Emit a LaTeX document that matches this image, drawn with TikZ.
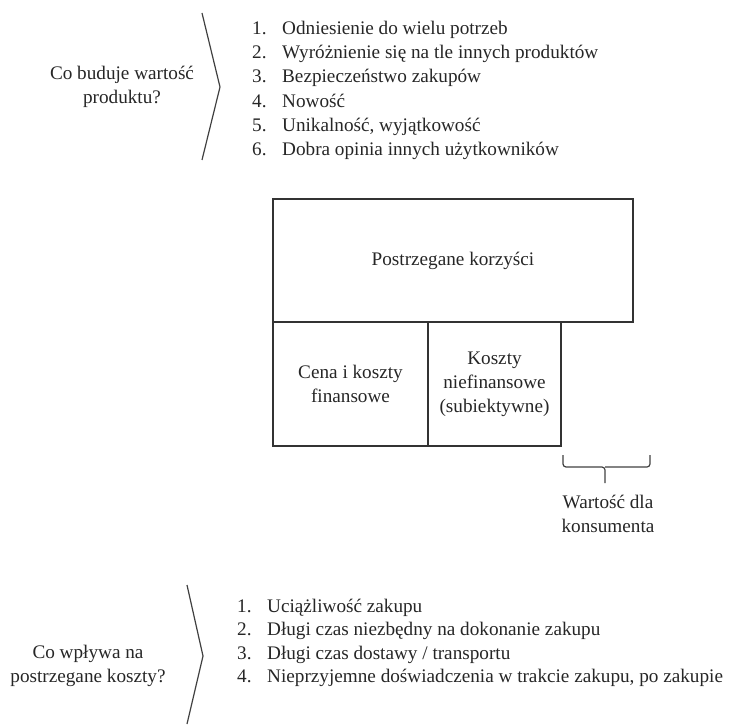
\documentclass[tikz,border=0pt]{standalone}
\usepackage{fontspec}
\setmainfont{Liberation Serif}
\begin{document}
\begin{tikzpicture}[x=1pt,y=-1pt,
  every node/.style={font=\fontsize{19.2}{24}\selectfont, text=black!85},
  ln/.style={draw=black!75, line width=1.2pt},
  box/.style={draw=black!80, line width=1.2pt, inner sep=0pt, outer sep=0pt, align=center},
  item/.style={anchor=base west, inner sep=0pt},
  question/.style={align=center, inner sep=0pt}]
\useasboundingbox (0,0) rectangle (739,727);

% top section
\node[question] (q1) at (122,86.5) {Co buduje wartość\\produktu?};
\coordinate (c1a) at (202,13);
\coordinate (c1b) at (220,87);
\coordinate (c1c) at (202,160);
\draw[ln] (c1a) -- (c1b) -- (c1c);

\node[item] (a1) at (252,34.5)  {\makebox[30pt][l]{1.}Odniesienie do wielu potrzeb};
\node[item] (a2) at (252,58.7)  {\makebox[30pt][l]{2.}Wyróżnienie się na tle innych produktów};
\node[item] (a3) at (252,82.9)  {\makebox[30pt][l]{3.}Bezpieczeństwo zakupów};
\node[item] (a4) at (252,107.1) {\makebox[30pt][l]{4.}Nowość};
\node[item] (a5) at (252,131.3) {\makebox[30pt][l]{5.}Unikalność, wyjątkowość};
\node[item] (a6) at (252,155.5) {\makebox[30pt][l]{6.}Dobra opinia innych użytkowników};

% boxes
\node[box, minimum width=360pt, minimum height=123pt] (ben) at (453,260.5) {Postrzegane korzyści};
\node[box, minimum width=155pt, minimum height=124pt] (fin) at (350.5,384) {Cena i koszty\\finansowe};
\node[box, minimum width=133pt, minimum height=124pt] (nfin) at (494.5,384) {Koszty\\niefinansowe\\(subiektywne)};

% bracket
\coordinate (bl) at (563,455);
\coordinate (br) at (650,455);
\coordinate (bc) at (605,467);
\coordinate (bt) at (605,483);
\draw[ln, rounded corners=3pt] (bl) |- (bc) -- (bt);
\draw[ln, rounded corners=3pt] (br) |- (bc);
\node[question] (val) at (608,513.5) {Wartość dla\\konsumenta};

% bottom section
\node[question] (q2) at (88,666) {Co wpływa na\\postrzegane koszty?};
\coordinate (c2a) at (187,585);
\coordinate (c2b) at (203,656);
\coordinate (c2c) at (187,724);
\draw[ln] (c2a) -- (c2b) -- (c2c);

\node[item] (b1) at (237,612)   {\makebox[30pt][l]{1.}Uciążliwość zakupu};
\node[item] (b2) at (237,635.5) {\makebox[30pt][l]{2.}Długi czas niezbędny na dokonanie zakupu};
\node[item] (b3) at (237,659)   {\makebox[30pt][l]{3.}Długi czas dostawy / transportu};
\node[item] (b4) at (237,682.5) {\makebox[30pt][l]{4.}Nieprzyjemne doświadczenia w trakcie zakupu, po zakupie};
\end{tikzpicture}
\end{document}
